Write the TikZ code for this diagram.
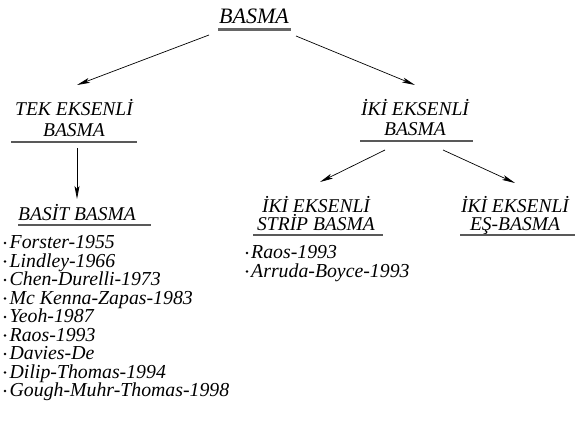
\documentclass[tikz,border=0pt]{standalone}
\usepackage{fontspec}
\setmainfont{Liberation Serif}
\usetikzlibrary{arrows.meta}
\begin{document}
\begin{tikzpicture}[x=1pt,y=-1pt,
  head/.style={font=\fontsize{19.5}{20}\selectfont\itshape, align=center, inner sep=0pt, anchor=base},
  titl/.style={font=\fontsize{22}{24}\selectfont\itshape, inner sep=0pt, anchor=base},
  item/.style={font=\fontsize{19.8}{18.5}\selectfont\itshape, inner sep=0pt, anchor=base west},
  bul/.style={circle, fill=black, inner sep=0pt, minimum size=2.8pt},
  uline/.style={draw=black!65, line width=1.1pt},
  conn/.style={line width=0.7pt, -{Stealth[length=13pt,width=5pt,inset=3pt]}}]
\useasboundingbox (0,0) rectangle (583,439);

% title
\node[titl] (basma) at (254,23) {BASMA};
\draw[draw=black!60, line width=2.6pt] (218,29.5) -- (291,29.5);

% first level
\node[head] (tek1) at (74,115.5) {TEK EKSENLİ};
\node[head] (tek2) at (74,136) {BASMA};
\draw[uline] (11,142) -- (137,142);

\node[head] (iki1) at (415,115) {İKİ EKSENLİ};
\node[head] (iki2) at (415,135.5) {BASMA};
\draw[uline] (360,141) -- (473,141);

% second level
\node[head] (basit) at (77,220) {BASİT BASMA};
\draw[uline] (18,225) -- (151,225);

\node[head] (str1) at (316,212.5) {İKİ EKSENLİ};
\node[head] (str2) at (316,230.5) {STRİP BASMA};
\draw[uline] (253,235) -- (383,235);

\node[head] (es1) at (515,212.5) {İKİ EKSENLİ};
\node[head] (es2) at (515,230.5) {EŞ-BASMA};
\draw[uline] (460,235) -- (575,235);

% connectors
\coordinate (s1) at (209,35);  \coordinate (e1) at (77,85);
\coordinate (s2) at (296,36);  \coordinate (e2) at (415,85);
\coordinate (s3) at (77,148);  \coordinate (e3) at (77,199);
\coordinate (s4) at (385,150); \coordinate (e4) at (320,182);
\coordinate (s5) at (443,150); \coordinate (e5) at (515,183);
\draw[conn] (s1) -- (e1);
\draw[conn] (s2) -- (e2);
\draw[conn] (s3) -- (e3);
\draw[conn] (s4) -- (e4);
\draw[conn] (s5) -- (e5);

% left list
\foreach \t [count=\i] in {Forster-1955, Lindley-1966, Chen-Durelli-1973, Mc Kenna-Zapas-1983, Yeoh-1987, Raos-1993, Davies-De, Dilip-Thomas-1994, Gough-Muhr-Thomas-1998}{
  \node[bul] (lb\i) at (5,{248.5+18.5*(\i-1)-5.5}) {};
  \node[item] (li\i) at (9.5,{248.5+18.5*(\i-1)}) {\t};
}
% right list
\foreach \t [count=\i] in {Raos-1993, Arruda-Boyce-1993}{
  \node[bul] (rb\i) at (247,{258.5+18.5*(\i-1)-5.5}) {};
  \node[item] (ri\i) at (251,{258.5+18.5*(\i-1)}) {\t};
}
\end{tikzpicture}
\end{document}
